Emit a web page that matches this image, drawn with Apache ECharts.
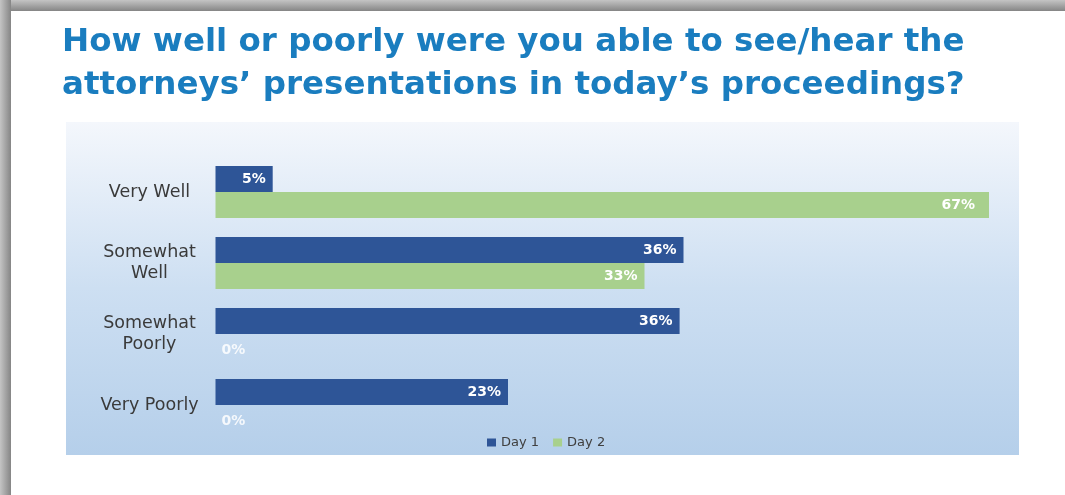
<!DOCTYPE html>
<html>
<head>
<meta charset="utf-8">
<script src="https://cdn.jsdelivr.net/npm/echarts@6/dist/echarts.min.js"></script>
<style>
html,body{margin:0;padding:0;background:#fff;}
#chart{width:1065px;height:495px;}
</style>
</head>
<body>
<div id="chart"></div>
<script>
// Data
var categories = ['Very Well', 'Somewhat\nWell', 'Somewhat\nPoorly', 'Very Poorly'];
// bar lengths as drawn (percent units)
var day1Values = [4.4, 36.0, 35.7, 22.5];
var day2Values = [59.5, 33.0, 0, 0];
// labels printed on the bars
var day1Labels = ['5%', '36%', '36%', '23%'];
var day2Labels = ['67%', '33%', '0%', '0%'];
var seriesNames = ['Day 1', 'Day 2'];
var titleText = 'How well or poorly were you able to see/hear the\nattorneys\u2019 presentations in today\u2019s proceedings?';

function labelFor(labels) {
  return function (p) { return labels[p.dataIndex]; };
}
function buildData(values, labels) {
  return values.map(function (v, i) {
    if (v === 0) {
      return { value: v, label: { position: 'right', distance: 6, offset: [0, 3], color: 'rgba(255,255,255,0.85)' } };
    }
    if (labels[i] === '67%') {
      return { value: v, label: { distance: 14 } };
    }
    return v;
  });
}

var chart = echarts.init(document.getElementById('chart'), null, { renderer: 'canvas' });
chart.setOption({
  animation: false,
  backgroundColor: '#ffffff',
  title: {
    text: titleText,
    left: 57,
    top: 16,
    textStyle: {
      fontFamily: 'DejaVu Sans',
      fontWeight: 'bold',
      fontSize: 32.5,
      lineHeight: 43,
      color: '#1a7dbf'
    }
  },
  graphic: [
    { type: 'rect', z: -10, shape: { x: 0, y: 0, width: 1065, height: 11 },
      style: { fill: new echarts.graphic.LinearGradient(0, 0, 0, 1, [{ offset: 0, color: '#c4c4c4' }, { offset: 1, color: '#858585' }]) } },
    { type: 'rect', z: -10, shape: { x: 0, y: 0, width: 11, height: 495 },
      style: { fill: new echarts.graphic.LinearGradient(0, 0, 1, 0, [{ offset: 0, color: '#c4c4c4' }, { offset: 1, color: '#858585' }]) } },
    { type: 'rect', z: -10, shape: { x: 66, y: 122, width: 953, height: 333 },
      style: { fill: new echarts.graphic.LinearGradient(0, 0, 0, 1, [
        { offset: 0, color: '#f4f7fc' },
        { offset: 0.5, color: '#cddff2' },
        { offset: 1, color: '#b5cfea' }
      ]) } }
  ],
  legend: {
    data: seriesNames,
    left: 482,
    top: 431,
    icon: 'rect',
    itemWidth: 9,
    itemHeight: 8,
    itemGap: 14,
    textStyle: { fontFamily: 'DejaVu Sans', fontSize: 13, color: '#404040' }
  },
  grid: { left: 215.5, right: 69.5, top: 156.5, bottom: 54.5, containLabel: false },
  xAxis: {
    type: 'value', min: 0, max: 60,
    axisLine: { show: false }, axisTick: { show: false },
    axisLabel: { show: false }, splitLine: { show: false }
  },
  yAxis: {
    type: 'category', data: categories, inverse: true,
    axisLine: { show: false }, axisTick: { show: false },
    axisLabel: {
      align: 'center',
      margin: 66,
      fontFamily: 'DejaVu Sans',
      fontSize: 17.5,
      lineHeight: 21,
      color: '#3a3a3a'
    }
  },
  series: [
    {
      name: seriesNames[0], type: 'bar', data: buildData(day1Values, day1Labels),
      barWidth: 26, barGap: '0%',
      itemStyle: { color: '#2e5597' },
      label: {
        show: true, position: 'insideRight', distance: 7,
        formatter: labelFor(day1Labels),
        fontFamily: 'DejaVu Sans', fontWeight: 'bold', fontSize: 14, color: '#ffffff'
      }
    },
    {
      name: seriesNames[1], type: 'bar', data: buildData(day2Values, day2Labels),
      barWidth: 26, barGap: '0%',
      itemStyle: { color: '#a8d08d' },
      label: {
        show: true, position: 'insideRight', distance: 7,
        formatter: labelFor(day2Labels),
        fontFamily: 'DejaVu Sans', fontWeight: 'bold', fontSize: 14, color: '#ffffff'
      }
    }
  ]
});
</script>
</body>
</html>
